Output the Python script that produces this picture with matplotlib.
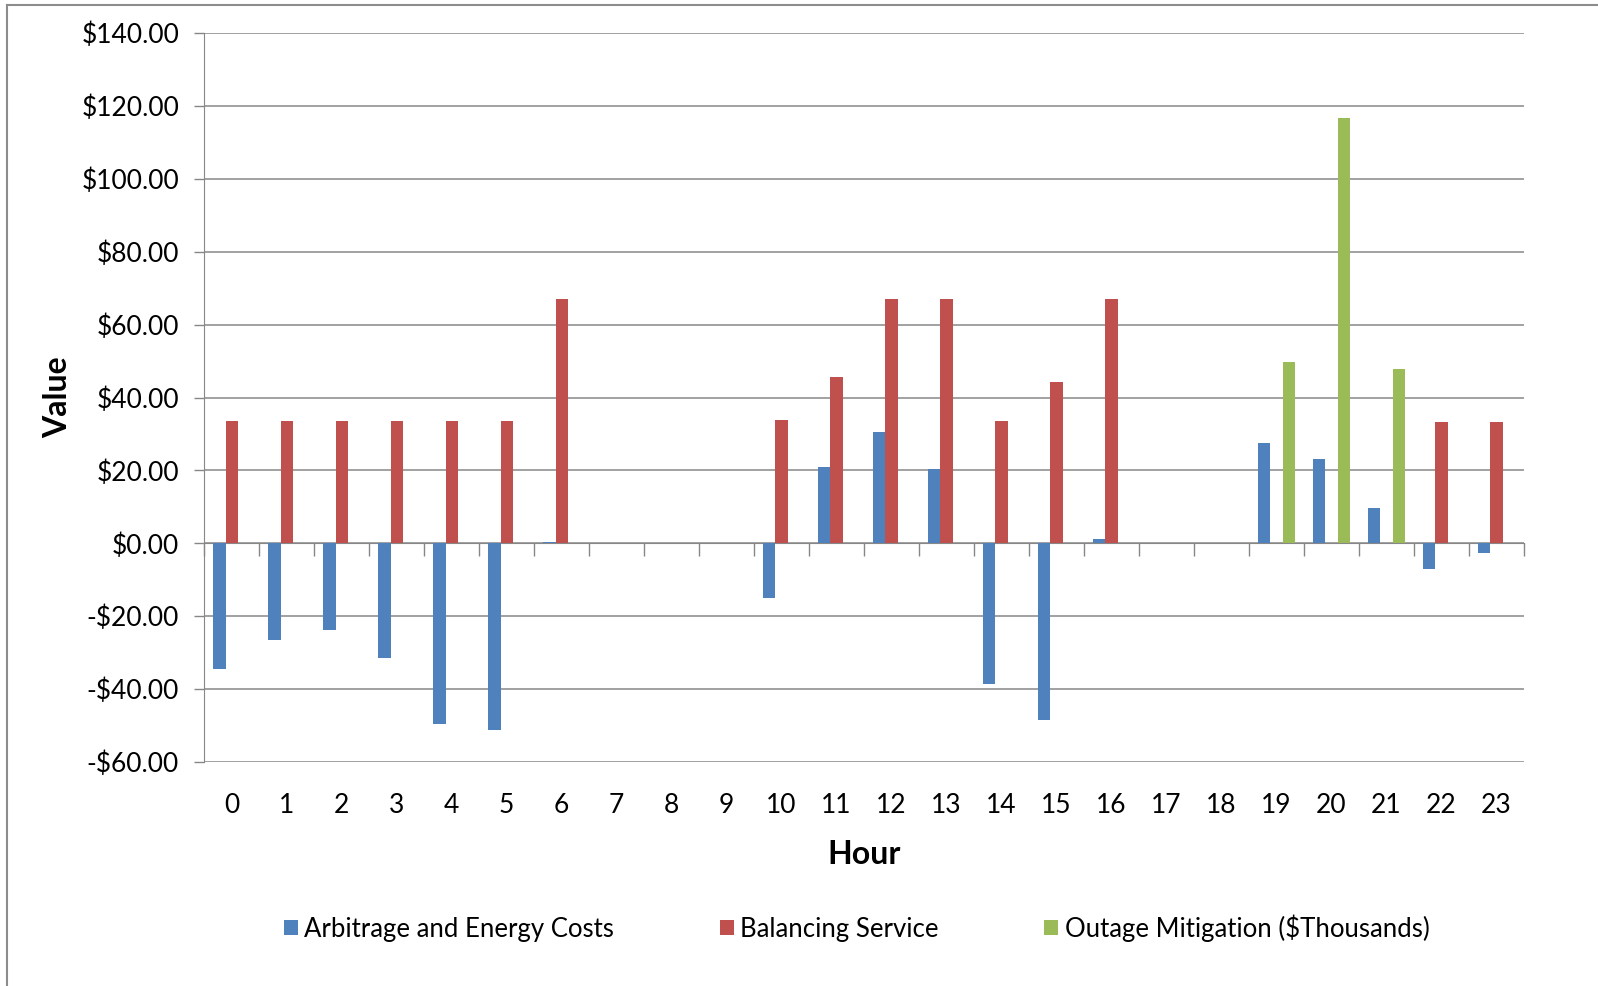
import numpy as np
import matplotlib
matplotlib.use('Agg')
import matplotlib.pyplot as plt
from matplotlib.lines import Line2D

plt.rcParams['font.family'] = ['Lato', 'DejaVu Sans']

hours = list(range(24))
arbitrage = [-34.4, -26.4, -23.7, -31.5, -49.6, -51.3, 0.3, 0, 0, 0,
             -14.9, 21.0, 30.4, 20.4, -38.5, -48.6, 1.2, 0, 0, 27.4,
             23.0, 9.6, -7.1, -2.7]
balancing = [33.5, 33.5, 33.5, 33.5, 33.5, 33.5, 67.1, 0, 0, 0,
             33.8, 45.6, 67.1, 67.1, 33.5, 44.3, 67.1, 0, 0, 0,
             0, 0, 33.4, 33.4]
outage = [0] * 19 + [49.7, 116.7, 47.7, 0, 0]
series_names = ['Arbitrage and Energy Costs', 'Balancing Service',
                'Outage Mitigation ($Thousands)']
colors = ['#4F81BD', '#C0504D', '#9BBB59']

grid_col = '#878787'
fig = plt.figure(figsize=(15.98, 9.86), dpi=100)
ax = fig.add_axes([0.1277, 0.2272, 0.9537 - 0.1277, 0.9665 - 0.2272])

x = np.arange(len(hours))
w = 0.22
for i, (vals, c, name) in enumerate(zip([arbitrage, balancing, outage], colors, series_names)):
    ax.bar(x + (i - 1) * w, vals, width=w, color=c, label=name, zorder=3)

ax.set_xlim(-0.5, 23.5)
ax.set_ylim(-60, 140)
ax.set_yticks(np.arange(-60, 141, 20))
ax.set_yticklabels(['-${:.2f}'.format(-v) if v < 0 else '${:.2f}'.format(v)
                    for v in np.arange(-60, 141, 20)])
ax.yaxis.grid(True, color=grid_col, lw=1.1, zorder=0)
ax.tick_params(axis='y', length=7, width=1, color=grid_col, labelsize=19, pad=11)

# axis line at zero with ticks between categories
for s in ['top', 'right']:
    ax.spines[s].set_visible(False)
ax.spines['left'].set_color(grid_col)
ax.spines['bottom'].set_color(grid_col)
ax.spines['bottom'].set_position(('data', 0))
ax.set_xticks(np.arange(-0.5, 24, 1))
ax.set_xticklabels([])
ax.tick_params(axis='x', length=9, width=1, color=grid_col)

sec = ax.secondary_xaxis('bottom')
sec.set_xticks(x)
sec.set_xticklabels([str(h) for h in hours])
sec.tick_params(length=0, labelsize=19, pad=22)
sec.spines['bottom'].set_visible(False)
sec.set_xlabel('Hour', fontsize=23, fontweight='bold', labelpad=16)

ax.set_ylabel('Value', fontsize=23, fontweight='bold')
ax.yaxis.set_label_coords(-0.100, 0.5)

leg = fig.legend(loc='center', bbox_to_anchor=(0.536, 1 - 928 / 986), ncol=3,
                 frameon=False, fontsize=18.5, handlelength=0.55, handleheight=0.55,
                 handletextpad=0.25, columnspacing=4.1)

# chart area border (top and left edges)
fig.add_artist(Line2D([7 / 1598, 1], [1 - 5 / 986, 1 - 5 / 986], color='#8c8c8c', lw=1.5))
fig.add_artist(Line2D([7 / 1598, 7 / 1598], [0, 1 - 5 / 986], color='#8c8c8c', lw=1.5))

fig.savefig('out.png', dpi=100)
